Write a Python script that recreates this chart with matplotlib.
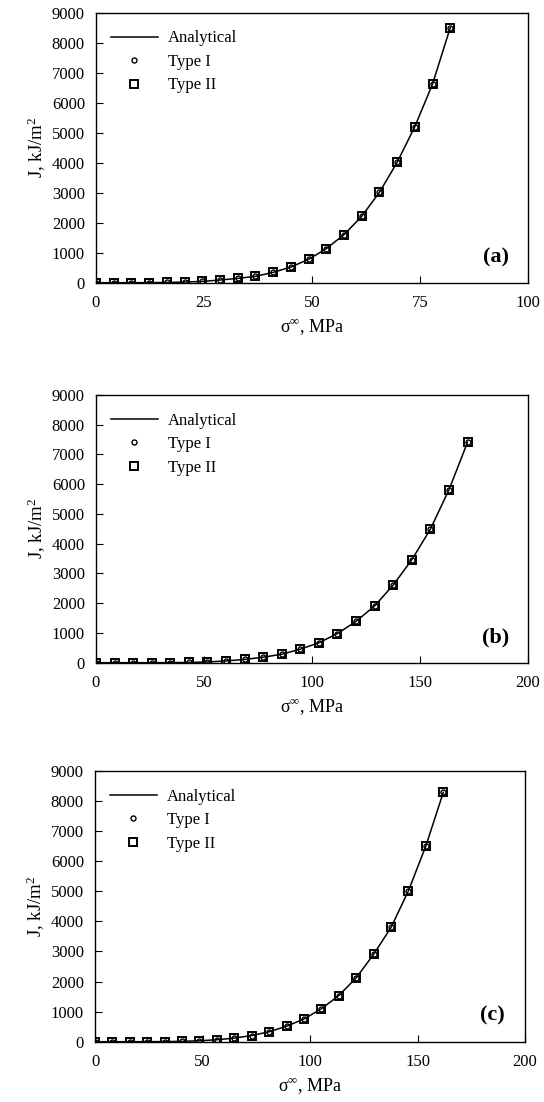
import matplotlib
matplotlib.use("Agg")
import matplotlib.pyplot as plt

plt.rcParams['font.family'] = ['Liberation Serif', 'DejaVu Serif']
plt.rcParams['mathtext.fontset'] = 'custom'
plt.rcParams['mathtext.rm'] = 'Liberation Serif'
plt.rcParams['mathtext.it'] = 'Liberation Serif:italic'

# panel (a)
sig_a = [0, 4.1, 8.2, 12.3, 16.4, 20.5, 24.6, 28.7, 32.8, 36.9, 41.0,
         45.1, 49.2, 53.3, 57.4, 61.5, 65.6, 69.7, 73.8, 77.9, 82.0]
ja_anl = [0, 0, 0, 2, 8, 22, 44, 89, 144, 211, 344,
          522, 778, 1133, 1600, 2211, 3011, 4010, 5200, 6620, 8500]
ja_t1 = [0, 0, 0, 2, 8, 22, 44, 89, 144, 211, 344,
         522, 778, 1133, 1600, 2211, 3011, 4010, 5200, 6620, 8500]
ja_t2 = [0, 0, 0, 2, 8, 22, 44, 89, 144, 211, 344,
         522, 778, 1133, 1600, 2211, 3011, 4010, 5200, 6620, 8500]

# panel (b)
sig_b = [0, 8.6, 17.2, 25.8, 34.4, 43.0, 51.6, 60.2, 68.8, 77.4, 86.0,
         94.6, 103.2, 111.8, 120.4, 129.0, 137.6, 146.2, 154.8, 163.4, 172.0]
jb_anl = [0, 0, 0, 1, 3, 9, 25, 60, 110, 185, 285,
          455, 670, 980, 1390, 1910, 2610, 3460, 4490, 5810, 7410]
jb_t1 = [0, 0, 0, 1, 3, 9, 25, 60, 110, 185, 285,
         455, 670, 980, 1390, 1910, 2610, 3460, 4490, 5810, 7410]
jb_t2 = [0, 0, 0, 1, 3, 9, 25, 60, 110, 185, 285,
         455, 670, 980, 1390, 1910, 2610, 3460, 4490, 5810, 7410]

# panel (c)
sig_c = [0, 8.1, 16.2, 24.3, 32.4, 40.5, 48.6, 56.7, 64.8, 72.9, 81.0,
         89.1, 97.2, 105.3, 113.4, 121.5, 129.6, 137.7, 145.8, 153.9, 162.0]
jc_anl = [0, 0, 0, 1, 4, 12, 32, 65, 120, 205, 330,
          515, 755, 1095, 1535, 2125, 2905, 3800, 5020, 6510, 8290]
jc_t1 = [0, 0, 0, 1, 4, 12, 32, 65, 120, 205, 330,
         515, 755, 1095, 1535, 2125, 2905, 3800, 5020, 6510, 8290]
jc_t2 = [0, 0, 0, 1, 4, 12, 32, 65, 120, 205, 330,
         515, 755, 1095, 1535, 2125, 2905, 3800, 5020, 6510, 8290]

panels = [
    (sig_a, ja_anl, ja_t1, ja_t2, 100, [0, 25, 50, 75, 100], '(a)'),
    (sig_b, jb_anl, jb_t1, jb_t2, 200, [0, 50, 100, 150, 200], '(b)'),
    (sig_c, jc_anl, jc_t1, jc_t2, 200, [0, 50, 100, 150, 200], '(c)'),
]
yticks = [0, 1000, 2000, 3000, 4000, 5000, 6000, 7000, 8000, 9000]

W, H = 544, 1102
fig = plt.figure(figsize=(W / 100, H / 100), dpi=100)
# axes boxes in pixels: left, right, top, bottom
boxes = [(96, 528, 12.7, 282.7), (96, 528, 395, 662.7), (95, 525, 771, 1041.7)]

for (sig, anl, t1, t2, xmax, xt, lab), (l, r, t, b) in zip(panels, boxes):
    ax = fig.add_axes([l / W, 1 - b / H, (r - l) / W, (b - t) / H])
    ax.plot(sig, anl, '-', color='black', lw=1.1, label='Analytical')
    ax.plot(sig, t1, 'o', ms=3.6, mfc='none', mec='black', mew=1.0, label='Type I')
    ax.plot(sig, t2, 's', ms=5.4, mfc='none', mec='black', mew=1.4, label='Type II')
    ax.set_xlim(0, xmax)
    ax.set_ylim(0, 9000)
    ax.set_xticks(xt)
    ax.set_yticks(yticks)
    ax.tick_params(direction='in', length=5, width=0.8, labelsize=12)
    ax.tick_params(axis='x', pad=9)
    ax.tick_params(axis='y', pad=8)
    for s in ax.spines.values():
        s.set_linewidth(1.0)
    ax.set_xlabel(r'$\mathregular{\sigma^{\infty}}$, MPa', fontsize=13, labelpad=4)
    ax.set_ylabel(r'J, kJ/m$^\mathregular{2}$', fontsize=13.5, labelpad=3)
    ax.text(0.925, 0.095, lab, transform=ax.transAxes, fontsize=16,
            fontweight='bold', ha='center', va='center')
    ax.legend(loc='upper left', bbox_to_anchor=(0.0, 0.99), frameon=False,
              fontsize=12, handlelength=2.8, handletextpad=0.6,
              labelspacing=0.45, borderaxespad=0.5)

fig.savefig('out.png', dpi=100)
